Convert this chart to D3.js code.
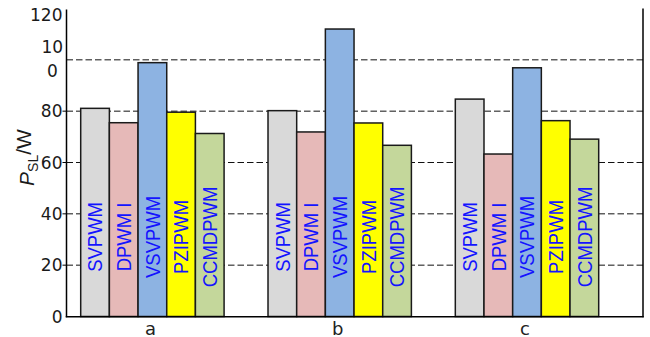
<!DOCTYPE html>
<html>
<head>
<meta charset="utf-8">
<script src="https://cdn.jsdelivr.net/npm/d3@7"></script>
<style>
  html, body { margin: 0; padding: 0; background: #fff; }
  svg { display: block; }
</style>
</head>
<body>
<svg id="chart" width="650" height="337"></svg>
<script>
// Stray-loss power per modulation scheme, for operating points a, b and c
const groups = ["a", "b", "c"];
const schemes = ["SVPWM", "DPWM I", "VSVPWM", "PZIPWM", "CCMDPWM"];
const valuesA = [81.1, 75.5, 98.9, 79.6, 71.3];
const valuesB = [80.2, 71.9, 112.0, 75.4, 66.7];
const valuesC = [84.7, 63.3, 96.9, 76.3, 69.1];
const yTicks = [0, 20, 40, 60, 80, 100, 120];
const gridValues = [20, 40, 60, 80, 100];
const schemeColors = ["#d9d9d9", "#e6b9b8", "#8db3e2", "#ffff00", "#c4d79b"];

const table = groups.map((g, i) => ({
  group: g,
  values: [valuesA, valuesB, valuesC][i]
}));

const svg = d3.select("#chart");

const xLeft = 66.5, xRight = 643;
const y = d3.scaleLinear().domain([0, 120]).range([316.5, 8.5]);
const x0 = d3.scaleBand().domain(groups).range([80.7, 598.7]).paddingInner(0.2345).paddingOuter(0);
const x1 = d3.scaleBand().domain(schemes).range([0, x0.bandwidth()]).padding(0);

// dashed horizontal grid
svg.append("g").selectAll("line").data(gridValues).join("line")
  .attr("x1", xLeft).attr("x2", xRight)
  .attr("y1", d => y(d)).attr("y2", d => y(d))
  .attr("stroke", "#111").attr("stroke-width", 1)
  .attr("stroke-dasharray", "6.5,3");

// bars
const gBars = svg.append("g").selectAll("g").data(table).join("g")
  .attr("transform", d => `translate(${x0(d.group)},0)`);

gBars.selectAll("rect")
  .data(d => d.values.map((v, i) => ({ scheme: schemes[i], value: v, idx: i })))
  .join("rect")
  .attr("x", d => x1(d.scheme))
  .attr("y", d => y(d.value))
  .attr("width", x1.bandwidth())
  .attr("height", d => y(0) - y(d.value))
  .attr("fill", d => schemeColors[d.idx])
  .attr("stroke", "#1a1a1a")
  .attr("stroke-width", 1.5);

// vertical scheme names inside each bar
gBars.selectAll("text")
  .data(d => d.values.map((v, i) => ({ scheme: schemes[i], value: v })))
  .join("text")
  .attr("transform", d => `translate(${x1(d.scheme) + x1.bandwidth() / 2 + 7.2},${y(31)}) rotate(-90) scale(1,1.08)`)
  .attr("text-anchor", "middle")
  .attr("font-family", "'Liberation Sans', Arial, sans-serif")
  .attr("font-size", 18.5)
  .attr("fill", "#1414ff")
  .text(d => d.scheme);

// axis frame: left, bottom, right
svg.append("line").attr("x1", xLeft).attr("x2", xLeft).attr("y1", 9.5).attr("y2", 317.3)
  .attr("stroke", "#000").attr("stroke-width", 1.5);
svg.append("line").attr("x1", xLeft - 0.75).attr("x2", xRight + 0.75).attr("y1", 316.8).attr("y2", 316.8)
  .attr("stroke", "#000").attr("stroke-width", 1.5);
svg.append("line").attr("x1", xRight).attr("x2", xRight).attr("y1", 8.5).attr("y2", 317.3)
  .attr("stroke", "#000").attr("stroke-width", 1.5);

// outer tick marks
svg.append("g").selectAll("line").data(yTicks.filter(t => t > 0 && t < 100)).join("line")
  .attr("x1", xLeft - 4).attr("x2", xLeft)
  .attr("y1", d => y(d)).attr("y2", d => y(d))
  .attr("stroke", "#000").attr("stroke-width", 1);

// y tick labels
const tickFont = "'DejaVu Sans', Verdana, sans-serif";
const tickLabels = svg.append("g")
  .attr("font-family", tickFont).attr("font-size", 17).attr("fill", "#1a1a1a");
yTicks.forEach(t => {
  if (t === 100) {
    // this label wraps onto two lines
    const txt = tickLabels.append("text")
      .attr("text-anchor", "middle")
      .attr("x", 52.3).attr("y", y(t));
    txt.append("tspan").attr("x", 52.3).attr("dy", "-0.38em").text("10");
    txt.append("tspan").attr("x", 52.3).attr("dy", "1.38em").text("0");
  } else {
    tickLabels.append("text")
      .attr("text-anchor", "end")
      .attr("x", 62.5)
      .attr("y", t === 120 ? y(t) + 6.5 : y(t))
      .attr("dy", "0.36em")
      .text(t);
  }
});

// category labels under each group
svg.append("g").selectAll("text").data(groups).join("text")
  .attr("x", d => x0(d) + x0.bandwidth() / 2 - 2)
  .attr("y", 334.5)
  .attr("text-anchor", "middle")
  .attr("font-family", tickFont)
  .attr("font-size", 18)
  .attr("fill", "#222")
  .text(d => d);

// y axis title: P_SL/W
const title = svg.append("text")
  .attr("transform", "translate(33.5,157.5) rotate(-90)")
  .attr("text-anchor", "middle")
  .attr("font-family", "'Liberation Sans', Arial, sans-serif")
  .attr("font-size", 21)
  .attr("fill", "#1a1a1a");
title.append("tspan").attr("font-style", "italic").text("P");
title.append("tspan").attr("font-size", 14).attr("dy", "0.3em").text("SL");
title.append("tspan").attr("dy", "-0.3em").text("/W");
</script>
</body>
</html>
